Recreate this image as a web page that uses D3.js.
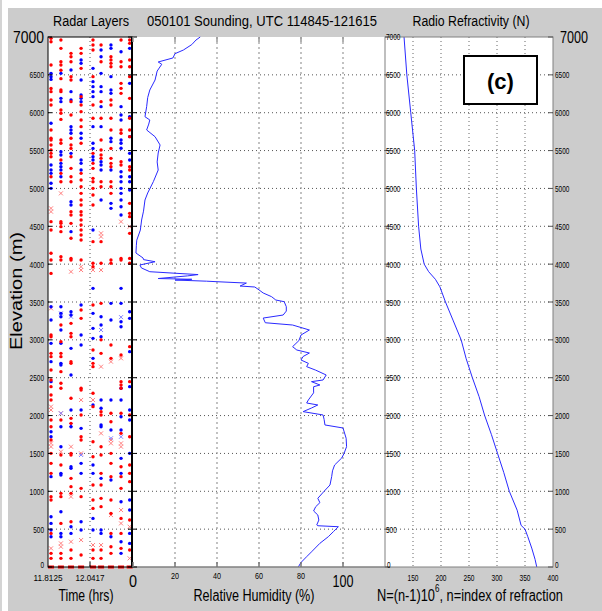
<!DOCTYPE html>
<html><head><meta charset="utf-8">
<script src="https://cdn.jsdelivr.net/npm/d3@7"></script>
<style>
body{margin:0;background:#fff}
svg{display:block}
text{font-family:"Liberation Sans",Arial,sans-serif;fill:#000}
</style>
</head><body>
<svg id="chart" width="602" height="611"></svg>
<script>
// ---------------- DATA ----------------
const elevTicks = [0,500,1000,1500,2000,2500,3000,3500,4000,4500,5000,5500,6000,6500,7000];
const timeTicks = [11.8125, 12.0417];
const timeTickLabels = ["11.8125", "12.0417"];
const rhTicks = [0,20,40,60,80,100];
const nTicks = [150,200,250,300,350,400];

// radar scan column times (hrs)
const colTimes = [11.829, 11.883, 11.938, 11.993, 12.058, 12.102, 12.156, 12.211, 12.258];

// elevations (m) of radar layer detections per column
const redDots = [
 [6982,6938,6630,6320,6278,6168,6102,5772,5662,5640,5574,5507,5463,5419,5155,4561,4451,4143,4054,3878,3064,3042,2822,2778,2602,2470,2382,2272,2206,1941,1853,1677,1501,1369,1237,929,885,444,180,114,0],
 [6960,6850,6674,6630,6560,6450,6300,6278,6036,5992,5912,5640,5596,5375,5199,5089,4561,4539,4495,4429,4099,4054,3196,2976,2822,2778,2580,2426,2360,1941,1479,1347,973,929,576,180,114,0],
 [6784,6740,6674,6476,6432,6146,5970,5662,5574,5529,5419,5265,5155,5089,4693,4649,4539,4341,4076,4054,3218,3086,3042,2712,2690,2228,1963,1897,1501,1479,1171,1061,973,598,224,114,0],
 [6850,6784,6586,6212,6102,6014,5904,5816,5596,5199,5111,5023,4935,4847,4781,4693,4649,4583,4517,4451,4385,4319,4054,3394,3284,2360,2338,2008,1721,1677,1039,929,158,0],
 [6960,6894,6828,6476,6102,5926,5463,5331,5265,5133,5089,5001,4913,4781,4297,4011,3966,3460,2866,2690,2646,2294,2118,1655,1457,1083,885,774,224,114,0],
 [6894,6674,6146,5926,5640,5507,5441,5397,5089,5023,4297,4011,3482,3000,2822,2052,2008,1589,1479,1237,1083,907,797,224,114,0],
 [6740,6696,6652,6608,6168,6102,5926,5772,5529,5397,5331,5287,5089,5023,4935,4054,4011,2932,2756,2030,1919,1501,1369,1193,885,708,444,268,180,0],
 [6960,6674,6608,6388,6322,6256,5772,5728,5353,5309,4076,4054,2800,2448,2404,2360,2030,1765,1325,1193,1039,642,444,246,0],
 [6960,6916,6696,6608,6476,6190,5926,5772,5684,5287,5243,4803,4671,4627,4407,4076,4011,2910,2448,2008,1721,1347,1237,1127,620,224,0]
];
const blueDots = [
 [6520,6476,6440,5860,5309,5243,5199,5068,5001,3438,3262,2954,2712,2448,1787,1721,1193,664,576,488,400],
 [6520,6190,6146,5485,5441,5331,5287,5243,5155,3438,3350,3306,3130,2954,2690,2668,1853,1589,1237,1215,730,444,400],
 [6564,6278,6168,5816,5772,5728,5463,4825,4781,4429,3372,3328,2888,2536,2074,1853,1325,1303,532,444],
 [6696,6652,6432,6234,6190,6146,5728,5662,5375,5331,5243,3460,3064,2932,2074,1831,1369,1237,598,488],
 [6586,6410,6344,6278,6212,5816,5596,5529,5419,5375,4451,3680,3350,3152,3020,2756,2140,1347,1237,642,488],
 [6828,6740,6520,6344,6278,6080,5816,5353,5309,5243,4847,3306,3196,3042,2206,2096,1875,1853,1171,488,444],
 [6894,6850,6476,6300,6256,5662,5618,5243,4803,4737,3482,3262,2206,1809,1149,400],
 [6806,6080,5970,5904,5640,5596,5530,5221,5155,5089,5001,4935,4847,4759,4649,3680,3482,3240,3174,2360,2206,1985,1809,1435,1237,862,334,180],
 [6850,6388,5948,5684,5463,5375,5155,5089,4979,3372,3284,2844,2382,2074,1941,1501,885,752,444,312]
];
const redCross = [
 [4737,4693,3416,2118,2074,1633,1589,246],
 [4935,2030,1523,312,268],
 [3900,1589,929,334],
 [3966,3922,2206,1501,356],
 [3922,2206,290],
 [4407,4363,3922,2646,1765,290],
 [2712,1677,1633,686],
 [4561,2756,1633,1589,752,576],
 [4495,532,114]
];
const blueCross = [
 [],[3350,2030],[3306,1875],[1480],[],[3130],[1700],[3300,1720],[]
];

// relative humidity profile: elevation (m), RH (%)
const rhElev = [0,60,136,200,313,400,466,532,545,555,620,687,740,796,850,907,1000,1083,1193,1270,1347,1440,1500,1589,1700,1836,1876,1950,2008,2052,2100,2140,2166,2206,2300,2381,2404,2448,2470,2536,2600,2646,2690,2734,2780,2826,2866,2910,2990,3064,3130,3196,3226,3288,3328,3380,3438,3504,3526,3570,3619,3660,3698,3711,3750,3768,3775,3790,3800,3810,3830,3845,3862,3880,3900,3950,3989,4032,4060,4081,4147,4250,4317,4450,4583,4700,4847,4940,5090,5243,5350,5468,5574,5683,5772,5850,5904,5947,6080,6200,6300,6432,6550,6640,6670,6723,6780,6828,6900,6960,7000];
const rhVal  = [78.7,80,82.7,85,89,93,95.4,97.8,88,87.5,88.5,88,86,87,89,88,91,93.8,94.6,95,96,99.4,100.5,101.7,101.5,100,91.4,91,90.5,81,85,88,82.7,83.5,86,86,89,85,90.5,92,87,82.7,83.5,80,81,84,78,76,79,80,84,76,63,62,71.5,73,73,72,68,66,62,60,58,51,54,40,35,20,28,12,20,26,31,20,8,4,3.3,10.5,5,4.8,1.4,1.6,1.8,3.5,4.1,5,5.7,7,9.7,12,11.5,12,12.9,10.5,6.5,7.5,8,5.7,6.5,7,8,10.5,11.5,13.7,12,19,20,24,28,30,32];

// radio refractivity profile: elevation (m), N
const nElev = [0,100,250,400,500,550,750,1000,1250,1500,1750,2000,2250,2500,2750,3000,3250,3500,3700,3800,3900,4000,4200,4500,5000,5500,6000,6500,7000];
const nVal  = [371,368,362,355,350,343,336,322,312,301,290,278,268,256,245,236,222,208,198,190,178,170,164,160,156,153,146,139,134];

// ---------------- CHART ----------------
const svg = d3.select("#chart");
const yTop = 37, yBot = 567;
const y = d3.scaleLinear().domain([0,7000]).range([yBot, yTop]);
const xT = d3.scaleLinear().domain([11.8125, 12.2708]).range([48,132]);
const xRH = d3.scaleLinear().domain([0,120]).range([133,385]);
const xN = d3.scaleLinear().domain([100,400]).range([385,553]);

// background
svg.append("rect").attr("x",0).attr("y",0).attr("width",602).attr("height",611).attr("fill","#fff");
svg.append("rect").attr("x",0).attr("y",0).attr("width",2).attr("height",611).attr("fill","#d4d4d4");
svg.append("rect").attr("x",8).attr("y",8).attr("width",594).attr("height",603).attr("fill","#cccccc");
svg.append("rect").attr("x",48).attr("y",yTop).attr("width",553-48).attr("height",yBot-yTop).attr("fill","#fff");

// grid
const g = svg.append("g");
elevTicks.filter(d=>d>0&&d<7000).forEach(d=>{
  g.append("line").attr("x1",48).attr("x2",553).attr("y1",y(d)).attr("y2",y(d))
   .attr("stroke","#555").attr("stroke-width",1).attr("stroke-dasharray","1,3");
});
g.append("line").attr("x1",xT(timeTicks[1])).attr("x2",xT(timeTicks[1])).attr("y1",yTop).attr("y2",yBot)
  .attr("stroke","#555").attr("stroke-dasharray","1,3");
rhTicks.filter(d=>d>0).forEach(d=>{
  g.append("line").attr("x1",xRH(d)).attr("x2",xRH(d)).attr("y1",yTop).attr("y2",yBot)
   .attr("stroke","#999").attr("stroke-width",1.2).attr("stroke-dasharray","2,3");
});
nTicks.filter(d=>d<400).forEach(d=>{
  g.append("line").attr("x1",xN(d)).attr("x2",xN(d)).attr("y1",yTop).attr("y2",yBot)
   .attr("stroke","#666").attr("stroke-dasharray","1,3");
});

// radar layer markers
const mk = svg.append("g");
colTimes.forEach((t,i)=>{
  const cx = xT(t);
  redCross[i].forEach(e=>{
    const cy=y(e);
    mk.append("path").attr("d",`M${cx-2},${cy-2}L${cx+2},${cy+2}M${cx-2},${cy+2}L${cx+2},${cy-2}`)
      .attr("stroke","#ff8080").attr("stroke-width",1);
  });
  blueCross[i].forEach(e=>{
    const cy=y(e);
    mk.append("path").attr("d",`M${cx-2},${cy-2}L${cx+2},${cy+2}M${cx-2},${cy+2}L${cx+2},${cy-2}`)
      .attr("stroke","#8080ff").attr("stroke-width",1);
  });
  blueDots[i].forEach(e=>{
    mk.append("circle").attr("cx",cx).attr("cy",y(e)).attr("r",1.7).attr("fill","#0000ff");
  });
  redDots[i].forEach(e=>{
    if(e===0){
      mk.append("rect").attr("x",cx-3).attr("y",y(0)-1.5).attr("width",6).attr("height",3).attr("fill","#ff0000");
    } else {
      mk.append("circle").attr("cx",cx).attr("cy",y(e)).attr("r",1.7).attr("fill","#ff0000");
    }
  });
});

// RH line
const rhData = rhElev.map((e,i)=>[rhVal[i],e]);
svg.append("path").datum(rhData)
  .attr("d", d3.line().x(d=>xRH(d[0])).y(d=>y(d[1])))
  .attr("fill","none").attr("stroke","#2a2aff").attr("stroke-width",1);

// N line
const nData = nElev.map((e,i)=>[nVal[i],e]);
svg.append("path").datum(nData)
  .attr("d", d3.line().x(d=>xN(d[0])).y(d=>y(d[1])))
  .attr("fill","none").attr("stroke","#2a2aff").attr("stroke-width",1);

// frames
const fr = svg.append("g");
fr.append("rect").attr("x",48).attr("y",yTop).attr("width",84).attr("height",yBot-yTop)
  .attr("fill","none").attr("stroke","#000").attr("stroke-width",1);
fr.append("line").attr("x1",132).attr("x2",132).attr("y1",yTop).attr("y2",yBot).attr("stroke","#000").attr("stroke-width",2);
fr.append("line").attr("x1",132).attr("x2",385).attr("y1",yBot).attr("y2",yBot).attr("stroke","#808080").attr("stroke-width",1.5);
fr.append("rect").attr("x",385).attr("y",yTop).attr("width",168).attr("height",yBot-yTop)
  .attr("fill","none").attr("stroke","#808080").attr("stroke-width",1);

// ticks
elevTicks.forEach(d=>{
  fr.append("line").attr("x1",48).attr("x2",52).attr("y1",y(d)).attr("y2",y(d)).attr("stroke","#000");
  fr.append("line").attr("x1",128).attr("x2",137).attr("y1",y(d)).attr("y2",y(d)).attr("stroke","#000");
  fr.append("line").attr("x1",385).attr("x2",390).attr("y1",y(d)).attr("y2",y(d)).attr("stroke","#555");
  fr.append("line").attr("x1",548).attr("x2",553).attr("y1",y(d)).attr("y2",y(d)).attr("stroke","#555");
});
fr.append("line").attr("x1",xT(timeTicks[1])).attr("x2",xT(timeTicks[1])).attr("y1",yBot).attr("y2",yBot-5).attr("stroke","#000");
rhTicks.forEach(d=>{
  fr.append("line").attr("x1",xRH(d)).attr("x2",xRH(d)).attr("y1",yBot).attr("y2",yBot-5).attr("stroke","#777").attr("stroke-width",1.5);
  fr.append("line").attr("x1",xRH(d)).attr("x2",xRH(d)).attr("y1",yTop).attr("y2",yTop+5).attr("stroke","#999").attr("stroke-width",1.5);
});

// tick labels
const lab = svg.append("g");
function small(x,yy,txt,anchor){
  const t = lab.append("text").attr("x",x).attr("y",yy).attr("text-anchor",anchor)
    .attr("dominant-baseline","central").attr("font-size",9.5).text(txt);
  t.attr("textLength", txt.length*3.6).attr("lengthAdjust","spacingAndGlyphs");
  return t;
}
elevTicks.forEach(d=>{
  if(d===7000){
    lab.append("text").attr("x",44).attr("y",y(d)).attr("text-anchor","end").attr("dominant-baseline","central")
      .attr("font-size",16).attr("textLength",31).attr("lengthAdjust","spacingAndGlyphs").text("7000");
    lab.append("text").attr("x",560).attr("y",y(d)).attr("text-anchor","start").attr("dominant-baseline","central")
      .attr("font-size",16).attr("textLength",28).attr("lengthAdjust","spacingAndGlyphs").text("7000");
    small(386,y(d)-1,"7000","start");
  } else if(d===0){
    small(44,y(d)-3,"0","end");
    small(555,y(d)-3,"0","start");
    small(387,y(d)-3,"0","start");
  } else {
    small(44,y(d),String(d),"end");
    small(555,y(d),String(d),"start");
    small(386,y(d),String(d),"start");
  }
});
timeTicks.forEach((t,i)=>{ small(xT(t), 577.5, timeTickLabels[i], "middle").attr("textLength",29); });
rhTicks.forEach(d=>{
  if(d===0 || d===100){
    lab.append("text").attr("x",xRH(d)).attr("y",581).attr("text-anchor","middle").attr("dominant-baseline","central")
      .attr("font-size",16).attr("textLength",d===0?8:21).attr("lengthAdjust","spacingAndGlyphs").text(String(d));
  } else {
    small(xRH(d),575,String(d),"middle").attr("textLength",8);
  }
});
nTicks.forEach(d=>{ small(xN(d),577.5,String(d),"middle").attr("textLength",11); });

// titles
function title(x,yy,txt,len,size){
  return lab.append("text").attr("x",x).attr("y",yy).attr("text-anchor","middle").attr("dominant-baseline","central")
    .attr("font-size",size).attr("textLength",len).attr("lengthAdjust","spacingAndGlyphs").text(txt);
}
title(91,21,"Radar Layers",76,14);
title(262,21,"050101 Sounding, UTC 114845-121615",230,14);
title(471,21,"Radio Refractivity (N)",117,14);
title(86,595,"Time (hrs)",55,16);
title(254,595,"Relative Humidity (%)",121,16);

// N formula with superscript
const nf = lab.append("text").attr("x",377).attr("y",595).attr("dominant-baseline","central").attr("font-size",16);
nf.append("tspan").text("N=(n-1)10");
nf.append("tspan").attr("font-size",10).attr("dy",-6).text("6");
nf.append("tspan").attr("dy",6).text(", n=index of refraction");
const bb = nf.node().getComputedTextLength();
nf.attr("transform",`translate(377,0) scale(${186/bb},1) translate(-377,0)`);

// y label
lab.append("text").attr("transform","translate(16,291) rotate(-90)").attr("text-anchor","middle")
  .attr("dominant-baseline","central").attr("font-size",16).attr("textLength",118).attr("lengthAdjust","spacingAndGlyphs")
  .text("Elevation (m)");

// (c) box
svg.append("rect").attr("x",464).attr("y",56).attr("width",73).attr("height",48)
  .attr("fill","#fff").attr("stroke","#000").attr("stroke-width",2);
svg.append("text").attr("x",500.5).attr("y",81).attr("text-anchor","middle").attr("dominant-baseline","central")
  .attr("font-size",22).attr("font-weight","bold").text("(c)");
</script>
</body></html>
